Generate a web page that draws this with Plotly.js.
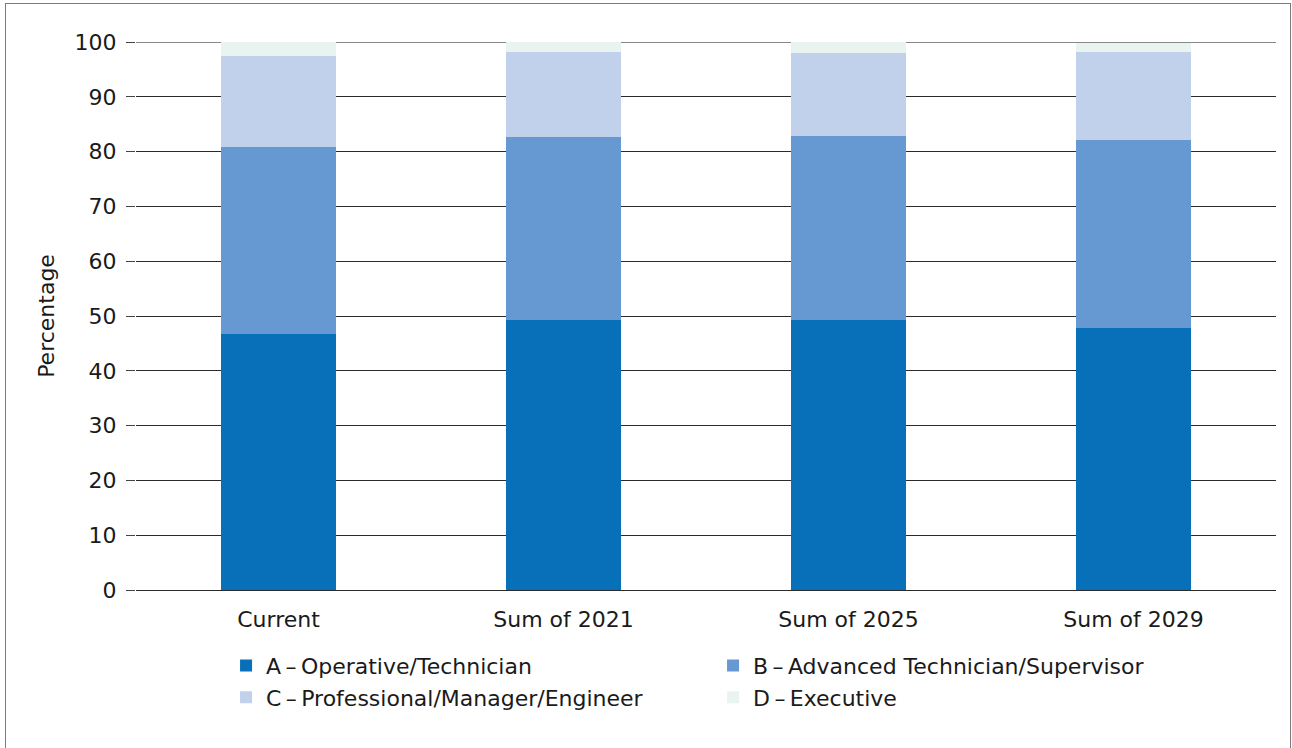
<!DOCTYPE html>
<html>
<head>
<meta charset="utf-8">
<script src="https://cdn.plot.ly/plotly-3.0.1.min.js"></script>
<style>
  body { margin: 0; background: #fff; }
  #frame { position: absolute; left: 5px; top: 3px; width: 1284px; height: 760px;
           border: 1.5px solid #7a7a7a; }
  #chart { position: absolute; left: 0; top: 0; width: 1292px; height: 748px; }
</style>
</head>
<body>
<div id="frame"></div>
<div id="chart"></div>
<script>
// ------------------- data ----------------------------
var categories = ["Current", "Sum of 2021", "Sum of 2025", "Sum of 2029"];
var seriesNames = ["A\u2009\u2013\u2009Operative/Technician", "B\u2009\u2013\u2009Advanced Technician/Supervisor",
                   "C\u2009\u2013\u2009Professional/Manager/Engineer", "D\u2009\u2013\u2009Executive"];
var operative = [46.7, 49.3, 49.3, 47.8];
var advanced = [34.1, 33.4, 33.5, 34.3];
var professional = [16.6, 15.5, 15.2, 16.1];
var executive = [2.6, 1.8, 2.0, 1.6];
var yTicks = [0, 10, 20, 30, 40, 50, 60, 70, 80, 90, 100];

var colours = ["#0770b8", "#6698d1", "#c1d1eb", "#e9f4f1"];
var values = [operative, advanced, professional, executive];

var traces = [];
for (var i = 0; i < values.length; i++) {
	traces.push({
		type: "bar",
		x: categories,
		y: values[i],
		name: seriesNames[i],
		marker: {color: colours[i], line: {width: 0}},
		hoverinfo: "skip"
	});
}

var font = {family: "DejaVu Sans, Open Sans, sans-serif", size: 22, color: "#1a1a1a"};

var layout = {
	barmode: "stack",
	bargap: 0.595,
	width: 1292,
	height: 748,
	margin: {l: 136, r: 16, t: 42, b: 158},
	paper_bgcolor: "rgba(0,0,0,0)",
	plot_bgcolor: "rgba(0,0,0,0)",
	font: font,
	xaxis: {
		tickfont: font,
		showgrid: false,
		ticks: "",
		ticklabelstandoff: 14,
		showline: false,
		zeroline: false
	},
	yaxis: {
		range: [0, 100],
		tickvals: yTicks,
		tickfont: font,
		ticks: "outside",
		ticklen: 9,
		tickcolor: "#444",
		tickwidth: 1,
		ticklabelstandoff: 5,
		gridcolor: "#2b2b2b",
		gridwidth: 1,
		zeroline: true,
		zerolinecolor: "#2b2b2b",
		zerolinewidth: 1,
		title: {text: "Percentage", font: font, standoff: 13}
	},
	shapes: [{
		type: "line", xref: "paper", yref: "y", x0: 0, x1: 1, y0: 100, y1: 100,
		line: {color: "#888", width: 2}, layer: "below"
	}],
	legend: {
		orientation: "h",
		x: 0.079,
		xanchor: "left",
		y: -0.1,
		yanchor: "top",
		entrywidth: 442,
		entrywidthmode: "pixels",
		traceorder: "normal",
		font: font,
		tracegroupgap: 0,
		itemwidth: 30
	},
	showlegend: true
};

Plotly.newPlot("chart", traces, layout, {displayModeBar: false, staticPlot: true});
</script>
</body>
</html>
